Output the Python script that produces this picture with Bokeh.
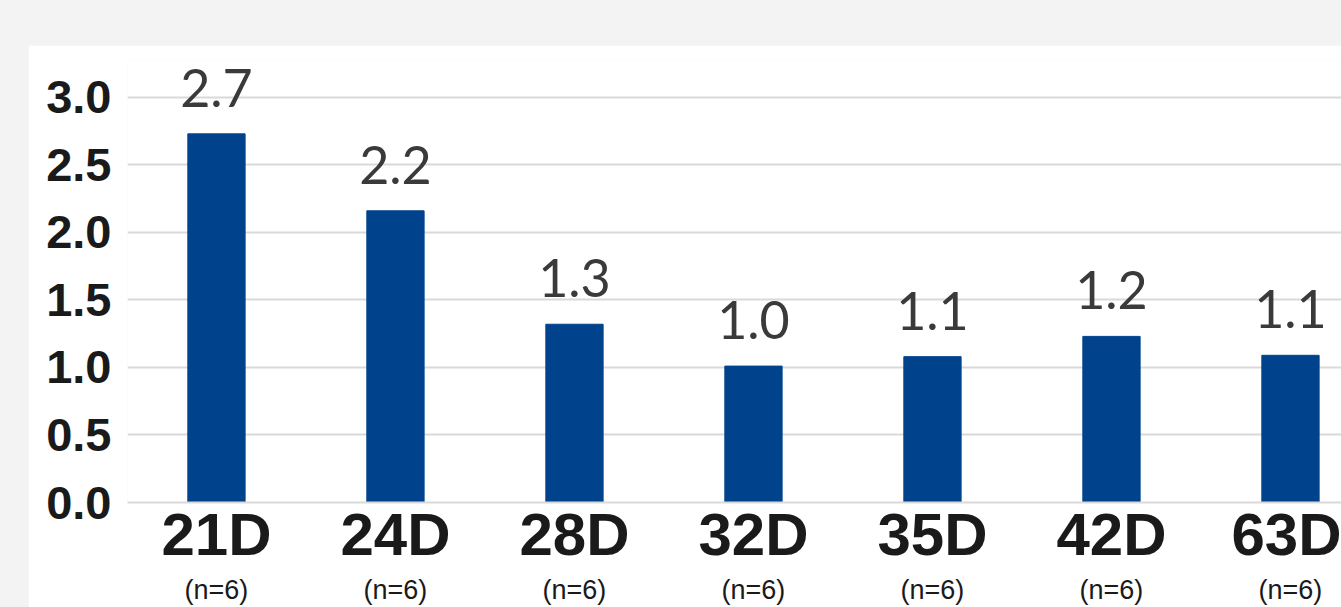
from bokeh.plotting import figure
from bokeh.models import Range1d, FixedTicker, LinearAxis, PrintfTickFormatter
from bokeh.layouts import column
from bokeh.embed import file_html
from bokeh.resources import INLINE
from bokeh.core.properties import value

# ---- data ----
categories = ["21D", "24D", "28D", "32D", "35D", "42D", "63D"]
sample_sizes = ["(n=6)", "(n=6)", "(n=6)", "(n=6)", "(n=6)", "(n=6)", "(n=6)"]
values = [2.73, 2.16, 1.32, 1.01, 1.08, 1.23, 1.09]
value_labels = ["2.7", "2.2", "1.3", "1.0", "1.1", "1.2", "1.1"]
y_ticks = [0.0, 0.5, 1.0, 1.5, 2.0, 2.5, 3.0]

xs = list(range(len(categories)))

BAR = "#00438c"
GRID = "#d9d9d9"
TXT = "#1a1a1a"

p = figure(width=1313, height=562,
           x_range=Range1d(-0.497, 6.285), y_range=Range1d(0, 3.273),
           output_backend="svg", toolbar_location=None,
           min_border_left=99, min_border_right=0, min_border_top=15, min_border_bottom=104,
           background_fill_color="white", border_fill_color="white",
           outline_line_color=None)

p.vbar(x=xs, top=values, width=0.32, color=BAR)

p.text(x=xs, y=values, text=value_labels, y_offset=-46,
       text_align="center", text_baseline="alphabetic",
       text_font=value("Lato"), text_font_size="52px", text_color="#3a3a3a")

# y axis
p.yaxis.ticker = FixedTicker(ticks=y_ticks)
p.yaxis.formatter = PrintfTickFormatter(format="%.1f")
p.yaxis.axis_line_color = None
p.yaxis.major_tick_line_color = None
p.yaxis.minor_tick_line_color = None
p.yaxis.major_label_text_font = "Liberation Sans"
p.yaxis.major_label_text_font_style = "bold"
p.yaxis.major_label_text_font_size = "47px"
p.yaxis.major_label_text_color = TXT
p.yaxis.major_label_standoff = 10

# x axis (category names)
p.xaxis.ticker = FixedTicker(ticks=xs)
p.xaxis.major_label_overrides = {i: c for i, c in zip(xs, categories)}
p.xaxis.axis_line_color = GRID
p.xaxis.axis_line_width = 2
p.xaxis.major_tick_line_color = None
p.xaxis.minor_tick_line_color = None
p.xaxis.major_label_text_font = "Liberation Sans"
p.xaxis.major_label_text_font_style = "bold"
p.xaxis.major_label_text_font_size = "60px"
p.xaxis.major_label_text_color = TXT
p.xaxis.major_label_standoff = -8

# second x axis (sample sizes)
ax2 = LinearAxis(ticker=FixedTicker(ticks=xs),
                 major_label_overrides={i: s for i, s in zip(xs, sample_sizes)})
ax2.axis_line_color = None
ax2.major_tick_line_color = None
ax2.minor_tick_line_color = None
ax2.major_label_text_font = "Liberation Sans"
ax2.major_label_text_font_size = "27px"
ax2.major_label_text_color = TXT
ax2.major_label_standoff = -2
p.add_layout(ax2, "below")

p.xgrid.grid_line_color = None
p.ygrid.ticker = FixedTicker(ticks=y_ticks)
p.ygrid.grid_line_color = GRID
p.ygrid.grid_line_width = 2

layout = column(p, styles={"padding-left": "28px", "padding-top": "45px",
                           "background-color": "#f3f3f3"})

open("out.html", "w").write(file_html(layout, INLINE))
